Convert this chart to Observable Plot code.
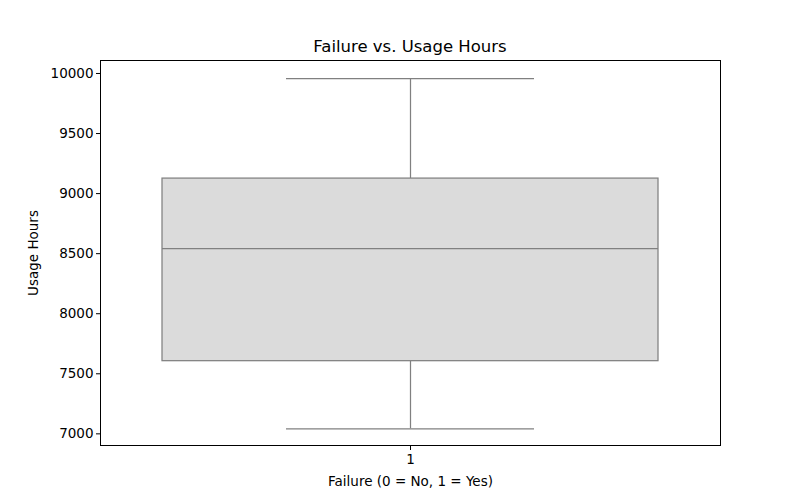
<!DOCTYPE html>
<html>
<head>
<meta charset="utf-8">
<script src="https://cdn.jsdelivr.net/npm/d3@7"></script>
<script src="https://cdn.jsdelivr.net/npm/@observablehq/plot@0.6"></script>
<style>
  body { margin: 0; background: #fff; }
  #wrap { position: relative; width: 800px; height: 500px; font-family: "DejaVu Sans", sans-serif; }
  #title { position: absolute; left: 0; width: 820px; top: 39px; text-align: center; font-size: 16.5px; color: #000; line-height: 1; }
</style>
</head>
<body>
<div id="wrap">
  <div id="title">Failure vs. Usage Hours</div>
</div>
<script>
// Data
const categories = ["1"];
const whiskerLow = [7042];
const q1 = [7605];
const median = [8542];
const q3 = [9125];
const whiskerHigh = [9958];
const yTicks = [7000, 7500, 8000, 8500, 9000, 9500, 10000];

const boxes = categories.map((c, i) => ({
  cat: c, lo: whiskerLow[i], q1: q1[i], med: median[i], q3: q3[i], hi: whiskerHigh[i]
}));

const boxFill = "#dbdbdb";
const boxStroke = "#808080";
const lw = 1.25;

const chart = Plot.plot({
  width: 800,
  height: 500,
  marginLeft: 100,
  marginRight: 80,
  marginTop: 60,
  marginBottom: 55,
  style: { fontFamily: "DejaVu Sans, sans-serif", fontSize: "13.5px", color: "#000", background: "transparent" },
  x: {
    type: "band",
    domain: categories,
    paddingInner: 0.2,
    paddingOuter: 0.1,
    label: "Failure (0 = No, 1 = Yes)",
    labelArrow: false,
    labelAnchor: "center",
    labelOffset: 40,
    tickSize: 5,
    tickPadding: 4
  },
  y: {
    domain: [6903, 10108],
    ticks: yTicks,
    tickFormat: d => String(d),
    label: "Usage Hours",
    labelArrow: false,
    labelAnchor: "center",
    labelOffset: 72,
    tickSize: 4,
    tickPadding: 3
  },
  marks: [
    // whiskers
    Plot.ruleX(boxes, { x: "cat", y1: "q3", y2: "hi", stroke: boxStroke, strokeWidth: lw }),
    Plot.ruleX(boxes, { x: "cat", y1: "lo", y2: "q1", stroke: boxStroke, strokeWidth: lw }),
    // caps
    Plot.tickY(boxes, { x: "cat", y: "hi", stroke: boxStroke, strokeWidth: lw, insetLeft: 124, insetRight: 124 }),
    Plot.tickY(boxes, { x: "cat", y: "lo", stroke: boxStroke, strokeWidth: lw, insetLeft: 124, insetRight: 124 }),
    // box
    Plot.barY(boxes, { x: "cat", y1: "q1", y2: "q3", fill: boxFill, stroke: boxStroke, strokeWidth: lw }),
    // median
    Plot.tickY(boxes, { x: "cat", y: "med", stroke: boxStroke, strokeWidth: lw }),
    Plot.frame({ stroke: "#000", strokeWidth: 1 })
  ]
});
chart.style.position = "absolute";
chart.style.left = "0";
chart.style.top = "0";
document.getElementById("wrap").appendChild(chart);
</script>
</body>
</html>
